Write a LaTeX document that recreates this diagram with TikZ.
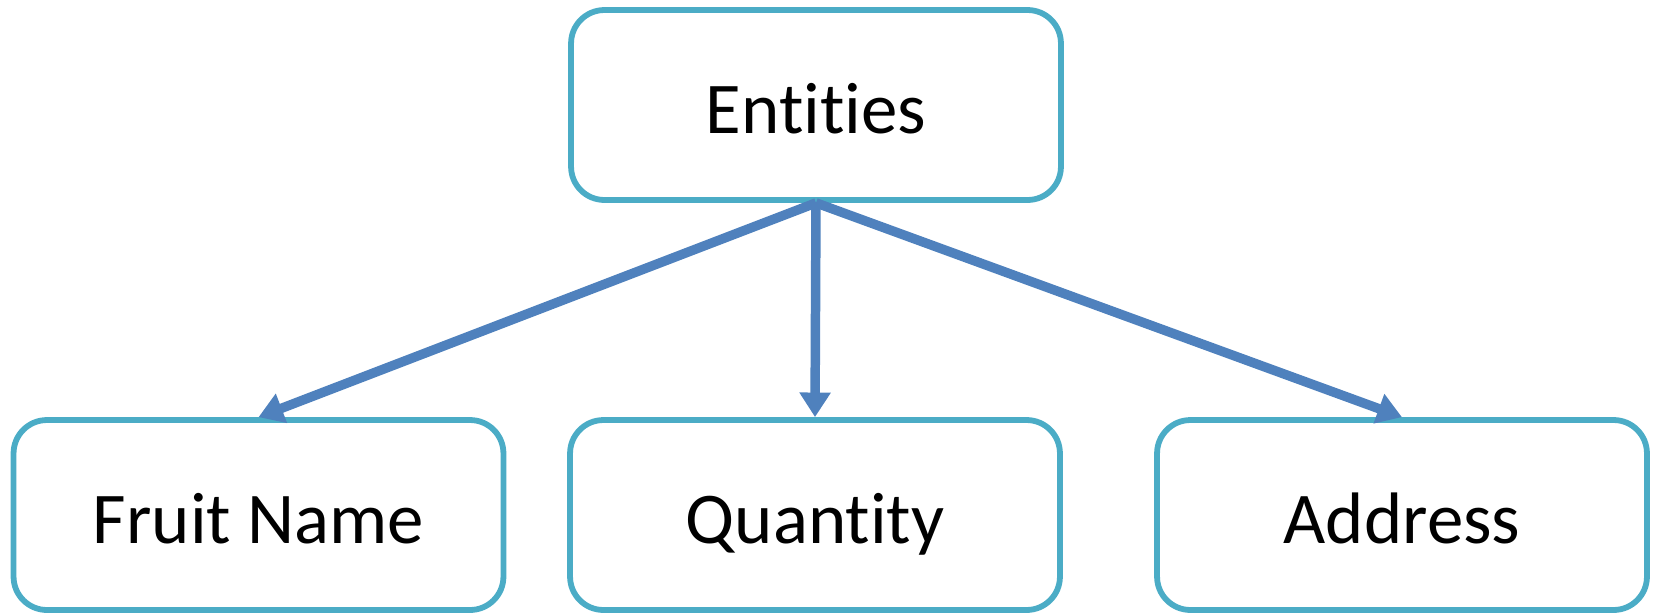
\documentclass[tikz,border=0pt]{standalone}
\usepackage{fontspec}
\setmainfont{Carlito}[Ligatures=NoCommon]
\usepackage{tikz}
\usetikzlibrary{positioning, arrows.meta}

\definecolor{boxline}{HTML}{4BACC6}
\definecolor{linkblue}{HTML}{4F81BD}

\begin{document}
\begin{tikzpicture}[x=0.02cm, y=0.02cm,
    entbox/.style={draw=boxline, line width=3.3pt, rounded corners=19pt,
        fill=white, minimum width=9.8cm, minimum height=3.8cm,
        inner sep=0pt, text height=1.12cm, text depth=0pt,
        font=\fontsize{41.5}{50}\selectfont},
    link/.style={draw=linkblue, line width=5.4pt,
        -{Triangle[width=17pt, length=14pt]}}]
    \useasboundingbox (0,0) rectangle (1659,-613);

    % top box
    \node[entbox] (entities) at (816,-105) {Entities};

    % attribute boxes
    \node[entbox] (fruit)    at (258.5,-515) {Fruit Name};
    \node[entbox] (quantity) at (815,-515)   {Quantity};
    \node[entbox] (address)  at (1402,-515)  {Address};

    % arrows from the top box
    \path[link] (entities.south) -- (fruit.north);
    \path[link] (entities.south) -- (quantity.north);
    \path[link] (entities.south) -- (address.north);
\end{tikzpicture}
\end{document}
